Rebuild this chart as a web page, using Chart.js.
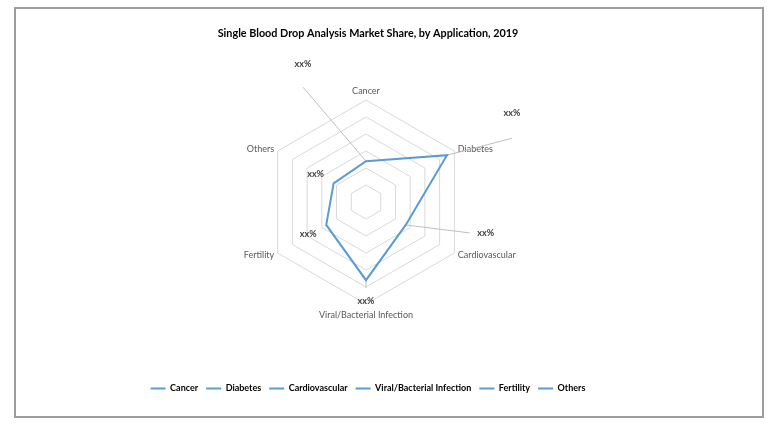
<!DOCTYPE html>
<html>
<head>
<meta charset="utf-8">
<title>Single Blood Drop Analysis Market Share</title>
<script src="https://cdn.jsdelivr.net/npm/chart.js@4.4.0/dist/chart.umd.min.js"></script>
<style>
  html, body { margin: 0; padding: 0; background: #fff; }
  #wrap { position: relative; width: 778px; height: 431px; }
  #frame { position: absolute; left: 14px; top: 7px; width: 746px; height: 407px; border: 2px solid #9d9d9d; pointer-events: none; }
</style>
</head>
<body>
<div id="wrap">
  <canvas id="radarChart"></canvas>
  <div id="frame"></div>
</div>
<script>
// données
const categories = ['Cancer', 'Diabetes', 'Cardiovascular', 'Viral/Bacterial Infection', 'Fertility', 'Others'];
const shareValues = [12, 27.5, 13.5, 23, 13.5, 11];
const valueLabels = ['xx%', 'xx%', 'xx%', 'xx%', 'xx%', 'xx%'];
const axisMax = 30;
const axisStep = 5;

const BLUE = '#5B9BD5';
const FONT = "Lato, 'Liberation Sans', sans-serif";

// placement du radar (centre + rayon) et des étiquettes déplacées
const RADAR = { x: 366, y: 202, r: 102 };
const labelOffsets = [[-63, -97], [65, -42], [80, 8], [0, 21], [-18, 9], [-18, -9]];
const leaderEnds = [[-63, -74], [65, -17], [64, 8], [0, 8], null, null];

// étiquettes "xx%" avec traits de rappel
const valueLabelPlugin = {
    id: 'valueLabels',
    beforeDatasetsDraw(chart) {
        const ctx = chart.ctx;
        const pts = chart.getDatasetMeta(0).data;
        ctx.save();
        ctx.strokeStyle = '#BFBFBF';
        ctx.lineWidth = 1;
        pts.forEach((pt, i) => {
            const end = leaderEnds[i];
            if (!end) return;
            ctx.beginPath();
            ctx.moveTo(pt.x, pt.y);
            ctx.lineTo(pt.x + end[0], pt.y + end[1]);
            ctx.stroke();
        });
        ctx.restore();
    },
    afterDatasetsDraw(chart) {
        const ctx = chart.ctx;
        const pts = chart.getDatasetMeta(0).data;
        ctx.save();
        ctx.font = 'bold 9px ' + FONT;
        ctx.fillStyle = '#404040';
        ctx.textAlign = 'center';
        ctx.textBaseline = 'middle';
        pts.forEach((pt, i) => {
            ctx.fillText(valueLabels[i], pt.x + labelOffsets[i][0], pt.y + labelOffsets[i][1]);
        });
        ctx.restore();
    }
};

new Chart(document.getElementById('radarChart'), {
    type: 'radar',
    data: {
        labels: categories,
        datasets: [{
            label: 'Market Share',
            data: shareValues,
            borderColor: BLUE,
            backgroundColor: BLUE,
            borderWidth: 2,
            fill: false,
            pointRadius: 0,
            pointHoverRadius: 0
        }]
    },
    options: {
        responsive: true,
        maintainAspectRatio: false,
        animation: false,
        layout: { padding: { top: 20, bottom: 28, left: 20, right: 62 } },
        plugins: {
            title: {
                display: true,
                text: 'Single Blood Drop Analysis Market Share, by Application, 2019',
                color: '#000',
                font: { family: FONT, size: 10.8, weight: 'bold' },
                padding: { top: 7, bottom: 10 }
            },
            legend: {
                position: 'bottom',
                labels: {
                    usePointStyle: true,
                    pointStyleWidth: 15,
                    boxHeight: 9,
                    padding: 8,
                    color: '#262626',
                    font: { family: FONT, size: 9, weight: 'bold' },
                    generateLabels: () => categories.map(c => ({
                        text: c,
                        fillStyle: BLUE,
                        strokeStyle: BLUE,
                        lineWidth: 2,
                        pointStyle: 'line',
                        hidden: false,
                        datasetIndex: 0
                    }))
                }
            },
            tooltip: { enabled: false }
        },
        scales: {
            r: {
                min: 0,
                max: axisMax,
                ticks: { stepSize: axisStep, display: false },
                grid: { color: '#D9D9D9', lineWidth: 1 },
                angleLines: { display: false },
                pointLabels: {
                    color: '#595959',
                    padding: (c) => (c.index === 3 ? 6 : 4),
                    font: (c) => ({
                        family: FONT,
                        size: 9,
                        lineHeight: (c.index === 0 || c.index === 3) ? 1.2 : 0.01
                    })
                },
                // on fixe la taille du radar comme dans l'original
                afterFit: (scale) => {
                    scale.xCenter = RADAR.x;
                    scale.yCenter = RADAR.y;
                    scale.drawingArea = RADAR.r;
                    scale.fit();
                }
            }
        }
    },
    plugins: [valueLabelPlugin]
});
</script>
</body>
</html>
